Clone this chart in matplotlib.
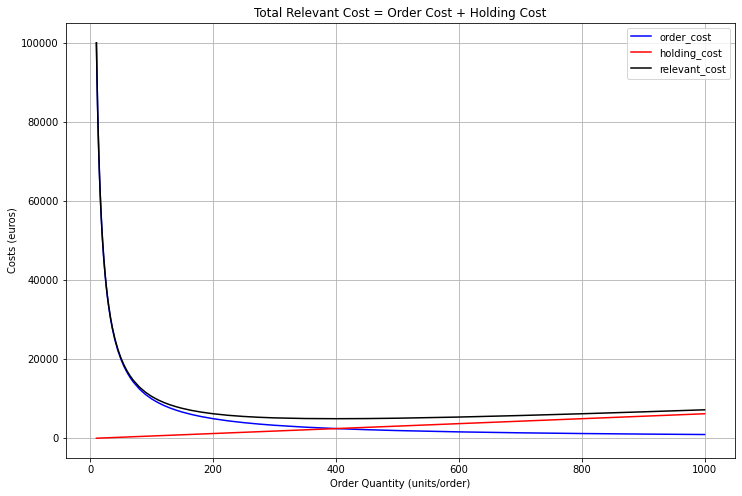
import matplotlib
matplotlib.use("Agg")
import matplotlib.pyplot as plt

quantity = [10, 11, 12, 13, 14, 15, 16, 17, 18, 19, 20, 22, 24, 26, 28, 30, 33, 36, 40, 45, 50,
            55, 60, 65, 70, 80, 90, 100, 110, 120, 130, 140, 150, 165, 180, 200, 225, 250, 275,
            300, 350, 400, 450, 500, 600, 700, 800, 900, 1000]
order_cost = [100000, 90909, 83333, 76923, 71429, 66667, 62500, 58824, 55556, 52632, 50000, 45455,
              41667, 38462, 35714, 33333, 30303, 27778, 25000, 22222, 20000, 18182, 16667, 15385,
              14286, 12500, 11111, 10000, 9091, 8333, 7692, 7143, 6667, 6061, 5556, 5000, 4444,
              4000, 3636, 3333, 2857, 2500, 2222, 2000, 1667, 1429, 1250, 1111, 1000]
holding_cost = [62, 69, 75, 81, 88, 94, 100, 106, 112, 119, 125, 138, 150, 162, 175, 188, 206,
                225, 250, 281, 312, 344, 375, 406, 438, 500, 562, 625, 688, 750, 812, 875, 938,
                1031, 1125, 1250, 1406, 1562, 1719, 1875, 2188, 2500, 2812, 3125, 3750, 4375,
                5000, 5625, 6250]
relevant_cost = [o + h for o, h in zip(order_cost, holding_cost)]

fig = plt.figure(figsize=(742/72, 496/72), dpi=72)
ax = fig.add_axes([66/742, 38/496, 669/742, 435/496])
ax.plot(quantity, order_cost, color="blue", label="order_cost")
ax.plot(quantity, holding_cost, color="red", label="holding_cost")
ax.plot(quantity, relevant_cost, color="black", label="relevant_cost")
ax.set_title("Total Relevant Cost = Order Cost + Holding Cost")
ax.set_xlabel("Order Quantity (units/order)")
ax.set_ylabel("Costs (euros)")
ax.grid(True)
ax.legend(loc="upper right")
fig.savefig("out.png", dpi=72)
